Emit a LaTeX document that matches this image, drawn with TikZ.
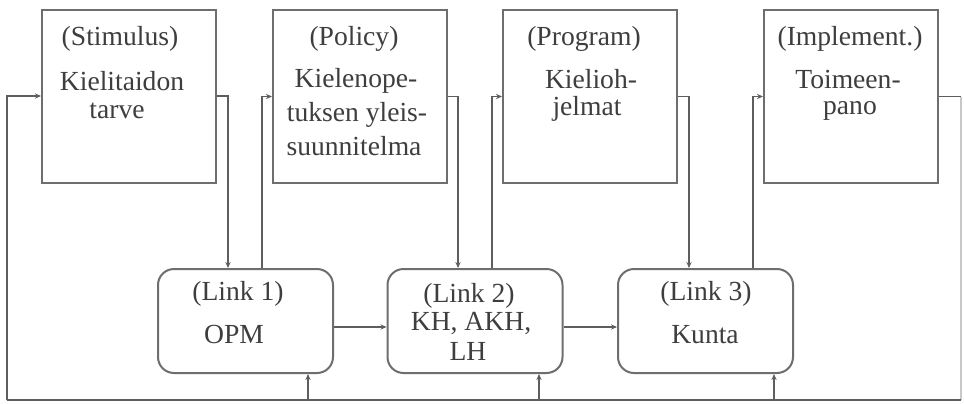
\documentclass[tikz,border=0pt]{standalone}
\usepackage{fontspec}
\setmainfont{Liberation Serif}
\usetikzlibrary{arrows.meta}
\definecolor{ink}{HTML}{3E3E3E}
\definecolor{wire}{HTML}{5E5E5E}
\definecolor{frame}{HTML}{6E6E6E}
\definecolor{faint}{HTML}{C8C8C8}
\begin{document}
\begin{tikzpicture}[x=0.5pt,y=-0.5pt,
  stagebox/.style={draw=frame,line width=1pt,minimum width=87pt,minimum height=86.5pt,inner sep=0pt},
  linkbox/.style={draw=frame,line width=1pt,rounded corners=8pt,minimum width=87.5pt,minimum height=52pt,inner sep=0pt},
  txt/.style={text=ink,font=\fontsize{13.8}{14}\selectfont,inner sep=0pt,anchor=base},
  wireline/.style={draw=wire,line width=0.75pt},
  arr/.style={wireline,-{Stealth[length=3pt,width=2.6pt]}}]
\useasboundingbox (0,0) rectangle (964,403);
\fill[white] (0,0) rectangle (964,403);

% stage boxes
\node[stagebox] (b1) at (129,96) {};
\node[stagebox] (b2) at (360,96.5) {};
\node[stagebox] (b3) at (590,96.5) {};
\node[stagebox] (b4) at (851,96.5) {};

% link boxes
\node[linkbox] (l1) at (245.5,321) {};
\node[linkbox] (l2) at (475,321) {};
\node[linkbox] (l3) at (705.5,321) {};

% stage texts
\node[txt] (b1a) at (120,45) {(Stimulus)};
\node[txt] (b1b) at (122,90) {Kielitaidon};
\node[txt] (b1c) at (117,118) {tarve};

\node[txt] (b2a) at (354,45) {(Policy)};
\node[txt] (b2b) at (356,87) {Kielenope-};
\node[txt] (b2c) at (357,121) {tuksen yleis-};
\node[txt] (b2d) at (354,155) {suunnitelma};

\node[txt] (b3a) at (584,45) {(Program)};
\node[txt] (b3b) at (591,88) {Kielioh-};
\node[txt] (b3c) at (587,115) {jelmat};

\node[txt] (b4a) at (850,45) {(Implement.)};
\node[txt] (b4b) at (848,88) {Toimeen-};
\node[txt] (b4c) at (850,114) {pano};

% link texts
\node[txt] (l1a) at (238,300) {(Link 1)};
\node[txt] (l1b) at (234,343) {OPM};
\node[txt] (l2a) at (469,302) {(Link 2)};
\node[txt] (l2b) at (471,330) {KH, AKH,};
\node[txt] (l2c) at (468,360) {LH};
\node[txt] (l3a) at (706,300) {(Link 3)};
\node[txt] (l3b) at (705,343) {Kunta};

% routing columns and rows
\coordinate (d1) at (228,0);
\coordinate (u1) at (262,0);
\coordinate (d2) at (458,0);
\coordinate (u2) at (492,0);
\coordinate (d3) at (689,0);
\coordinate (u3) at (753,0);
\coordinate (f1) at (308,0);
\coordinate (f2) at (539,0);
\coordinate (f3) at (774,0);
\coordinate (rx) at (961,0);
\coordinate (lx) at (7,0);
\coordinate (bt) at (0,400);
\coordinate (hz) at (0,327);

% stage to link and link back to next stage
\draw[arr] (b1.east) -| (l1.north -| d1);
\draw[arr] (l1.north -| u1) |- (b2.west);
\draw[arr] (b2.east) -| (l2.north -| d2);
\draw[arr] (l2.north -| u2) |- (b3.west);
\draw[arr] (b3.east) -| (l3.north -| d3);
\draw[arr] (l3.north -| u3) |- (b4.west);

% link chain
\draw[arr] (l1.east |- hz) -- (l2.west |- hz);
\draw[arr] (l2.east |- hz) -- (l3.west |- hz);

% feedback loop
\draw[wireline] (b4.east) -- (rx |- b4.east);
\draw[draw=faint,line width=0.75pt] (rx |- b4.east) -- (rx |- bt);
\draw[wireline,line width=1pt] (rx |- bt) -- (lx |- bt);
\draw[arr] (lx |- bt) |- (b1.west);

% feedback into links
\draw[arr] (f1 |- bt) -- (l1.south -| f1);
\draw[arr] (f2 |- bt) -- (l2.south -| f2);
\draw[arr] (f3 |- bt) -- (l3.south -| f3);
\end{tikzpicture}
\end{document}
